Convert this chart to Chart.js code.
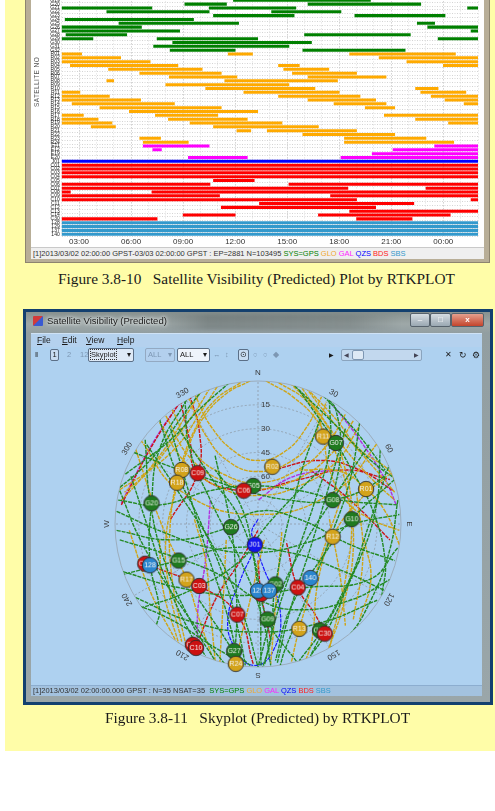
<!DOCTYPE html>
<html>
<head>
<meta charset="utf-8">
<title>RTKPLOT satellite visibility</title>
<script src="https://cdn.jsdelivr.net/npm/chart.js@4.4.1/dist/chart.umd.min.js"></script>
<style>
  html, body { margin: 0; padding: 0; width: 495px; height: 811px; overflow: hidden; background: #fff; }
  body { position: relative; font-family: "Liberation Sans", Arial, sans-serif; }
  .abs { position: absolute; }
  #paper { left: 5px; top: 0; width: 490px; height: 751px; background: #fffda8; }

  /* window 1 (visibility plot) */
  #w1frame { left: 25px; top: -10px; width: 465px; height: 273px; background: #b8ae97; box-shadow: inset 1px 0 0 #8d846f, inset -1px -1px 0 #8d846f; }
  #w1 { left: 31px; top: -10px; width: 453px; height: 268px; background: #fff; }
  #vis { left: 32px; top: -4px; width: 452px; height: 251px; }
  #ytitle { left: 7px; top: 78px; width: 60px; height: 8px; line-height: 8px; text-align: center; transform: rotate(-90deg); font-size: 6.5px; color: #555; white-space: nowrap; letter-spacing: 0.4px; }
  .status { white-space: nowrap; color: #333; }
  #status1 { left: 31px; top: 247px; width: 453px; height: 11px; background: #efefef; border-top: 1px solid #c9c9c9; font-size: 7.5px; line-height: 11px; }
  #status1 span.t, #status2 span.t { position: absolute; left: 2px; top: 0; }
  .gps { color: #008000; } .glo { color: #f0a830; } .gal { color: #ff22ff; }
  .qzs { color: #0000ff; } .bds { color: #ff2020; } .sbs { color: #3399cc; }
  .cap { font-family: "Liberation Serif", "DejaVu Serif", serif; font-size: 14px; color: #1a1a1a; white-space: nowrap; line-height: 16px; }
  #cap1 { left: 58px; top: 271px; }
  #cap2 { left: 105px; top: 710px; }

  /* window 2 (skyplot) */
  #w2outer { left: 23px; top: 309px; width: 470px; height: 396px; background: #13406f; }
  #w2frame { left: 26px; top: 312px; width: 464px; height: 390px; background: linear-gradient(#87918f 0, #9ea8a8 12px, #929ea1 21px, #9aa6a9 100%); }
  #w2blur { left: 160px; top: 314px; width: 240px; height: 16px; background: linear-gradient(90deg, rgba(80,88,88,0) 0, rgba(80,88,88,0.4) 20%, rgba(80,88,88,0.3) 80%, rgba(80,88,88,0) 100%); filter: blur(2px); }
  #w2icon { left: 33px; top: 316px; width: 10px; height: 10px; background: linear-gradient(135deg, #d23a3a 0, #d23a3a 45%, #3a5ad2 55%, #3a5ad2 100%); border-radius: 1px; }
  #w2title { left: 47px; top: 316px; font-size: 8.5px; line-height: 10px; color: #1c1c1c; white-space: nowrap; text-shadow: 0 0 3px #eef2f2, 0 0 5px #eef2f2; }
  .wbtn { top: 313px; height: 12px; border: 1px solid #56626c; border-radius: 2px; background: linear-gradient(#d6dde2, #9aa8b2); font-size: 8px; line-height: 12px; text-align: center; color: #fff; }
  #bmin { left: 410px; width: 18px; }
  #bmax { left: 430px; width: 19px; }
  #bcls { left: 451px; width: 31px; background: linear-gradient(#e4a08e, #c4442c); font-weight: bold; }
  #w2client { left: 31px; top: 333px; width: 451px; height: 362px; background: #aed1f0; }
  #menubar { left: 31px; top: 333px; width: 451px; height: 14px; background: #b4d1ee; border-top: 1px solid #cfe2f5; box-sizing: border-box; }
  .menu { top: 335px; font-size: 8.5px; line-height: 10px; color: #1a1a1a; }
  .tb { top: 350px; font-size: 7.5px; line-height: 10px; color: #1a1a1a; white-space: nowrap; }
  .dim { color: #7d97b3; }
  .box { border: 1px solid #5b6f87; border-radius: 2px; background: #c8dcf1; text-align: center; }
  #status2 { left: 31px; top: 685px; width: 451px; height: 10px; background: #a3c2df; border-top: 1px solid #8cadcf; font-size: 7.5px; line-height: 10px; }
  #sky { left: 31px; top: 365px; width: 451px; height: 320px; }
</style>
</head>
<body>
<div id="paper" class="abs"></div>

<!-- Figure 3.8-10 -->
<div id="w1frame" class="abs"></div>
<div id="w1" class="abs"></div>
<div id="vis" class="abs"><canvas id="visChart"></canvas></div>
<div id="ytitle" class="abs">SATELLITE NO</div>
<div id="status1" class="abs status"><span class="t" id="st1">[1]2013/03/02 02:00:00 GPST-03/03 02:00:00 GPST : EP=2881 N=103495 <span class="gps">SYS=GPS</span> <span class="glo">GLO</span> <span class="gal">GAL</span> <span class="qzs">QZS</span> <span class="bds">BDS</span> <span class="sbs">SBS</span></span></div>
<div id="cap1" class="abs cap">Figure 3.8-10&nbsp;&nbsp;&nbsp;Satellite Visibility (Predicted) Plot by RTKPLOT</div>

<!-- Figure 3.8-11 -->
<div id="w2outer" class="abs"></div>
<div id="w2frame" class="abs"></div>
<div id="w2blur" class="abs"></div>
<div id="w2icon" class="abs"></div>
<div id="w2title" class="abs">Satellite Visibility (Predicted)</div>
<div id="bmin" class="abs wbtn">&#8211;</div>
<div id="bmax" class="abs wbtn">&#9633;</div>
<div id="bcls" class="abs wbtn">x</div>
<div id="w2client" class="abs"></div>
<div id="menubar" class="abs"></div>
<div class="abs menu" style="left:37px"><u>F</u>ile</div>
<div class="abs menu" style="left:62px"><u>E</u>dit</div>
<div class="abs menu" style="left:86px"><u>V</u>iew</div>
<div class="abs menu" style="left:117px"><u>H</u>elp</div>

<div class="abs tb" style="left:35px">&#8214;</div>
<div class="abs tb box" style="left:50px;top:349px;width:7px;height:10px">1</div>
<div class="abs tb dim" style="left:67px">2</div>
<div class="abs tb dim" style="left:80px">12</div>
<div class="abs tb box" style="left:88px;top:348px;width:44px;height:12px;background:#dde9f6;text-align:left;line-height:12px">&nbsp;<span style="outline:1px dotted #333">Skyplot</span><span style="position:absolute;right:2px">&#9662;</span></div>
<div class="abs tb box dim" style="left:145px;top:348px;width:28px;height:12px;line-height:12px;border-color:#93a9c2;background:#b3d0ee;text-align:left">&nbsp;ALL<span style="position:absolute;right:2px">&#9662;</span></div>
<div class="abs tb box" style="left:177px;top:348px;width:31px;height:12px;line-height:12px;background:#eef4fb;text-align:left">&nbsp;ALL<span style="position:absolute;right:2px">&#9662;</span></div>
<div class="abs tb dim" style="left:213px">&#8596;</div>
<div class="abs tb dim" style="left:225px">&#8597;</div>
<div class="abs tb box" style="left:238px;top:349px;width:9px;height:10px">&#8857;</div>
<div class="abs tb dim" style="left:253px">&#9675;</div>
<div class="abs tb dim" style="left:263px">&#9675;</div>
<div class="abs tb dim" style="left:273px">&#9670;</div>
<div class="abs tb" style="left:329px;font-size:6px">&#9654;</div>
<div class="abs box" style="left:341px;top:349px;width:79px;height:10px;background:#c2d8ee;border-color:#8aa4be"></div>
<div class="abs tb dim" style="left:344px;font-size:6px;color:#445">&#9664;</div>
<div class="abs box" style="left:352px;top:350px;width:10px;height:8px;background:#dde9f5;border-color:#7d97b3"></div>
<div class="abs tb" style="left:414px;font-size:6px;color:#445">&#9654;</div>
<div class="abs tb" style="left:445px;font-size:8px">&#10005;</div>
<div class="abs tb" style="left:459px;font-size:8.5px">&#8635;</div>
<div class="abs tb" style="left:472px;font-size:9px">&#9881;</div>

<div id="sky" class="abs"><canvas id="skyChart"></canvas></div>
<div id="status2" class="abs status"><span class="t" id="st2">[1]2013/03/02 02:00:00.000 GPST : N=35 NSAT=35&nbsp; <span class="gps">SYS=GPS</span> <span class="glo">GLO</span> <span class="gal">GAL</span> <span class="qzs">QZS</span> <span class="bds">BDS</span> <span class="sbs">SBS</span></span></div>
<div id="cap2" class="abs cap">Figure 3.8-11&nbsp;&nbsp;&nbsp;Skyplot (Predicted) by RTKPLOT</div>

<script>
// ---- visibility plot: passes in hours from 2013/03/02 00:00 GPST (2 = 02:00, 26 = 02:00 next day)
const timeMin = 2;
const timeMax = 26;

const gpsSats = ['G19','G20','G21','G22','G23','G24','G25','G26','G27','G28','G29','G30','G31','G32'];
const gpsPasses = [
  [[11.9,19.8]],
  [[9.1,11.5],[16.2,22.7]],
  [[2,7.2],[10.5,15.5],[25.4,26]],
  [[4.6,10.5],[14.1,18.1]],
  [[10.75,15.4],[18.9,24.1]],
  [[2.2,9.6]],
  [[5.3,12.2],[22.5,23.5]],
  [[2,6.6],[23.1,26]],
  [[2,8.8],[25.6,26]],
  [[2.25,5.75],[16,22.1]],
  [[2,3.8],[7.5,13.3],[23.7,26]],
  [[8.4,16.4]],
  [[7.3,15.1]],
  [[8.25,12],[15.9,21.8]]
];

const gloSats = ['R01','R02','R03','R04','R05','R06','R07','R08','R09','R10','R11','R12',
                 'R13','R14','R15','R16','R17','R18','R19','R20','R21','R22','R23','R24'];
const gloPasses = [
  [[2,3.15],[11.6,13],[18.6,24.7]],
  [[2,5.4],[20.3,26]],
  [[2,7.1],[21.9,26]],
  [[2.5,8.7],[14.5,15.7],[24,26]],
  [[4.7,10.1],[14.8,17.4]],
  [[6.5,11.2],[15.3,19]],
  [[8.2,12.1],[16.2,20.7]],
  [[4.6,5],[11.4,17.9]],
  [[8,15.1]],
  [[10.3,16.6],[22.4,23.7]],
  [[2,3.05],[12.5,18],[22.7,25.3]],
  [[2,4.75],[14.5,19.2],[23.3,26]],
  [[2,6.55],[16.2,20.1],[24.1,26]],
  [[2.6,8.5],[17.7,20.7],[25.2,26]],
  [[4.2,11.2],[19.5,21.2]],
  [[5.9,13.3]],
  [[2,3.25],[7.4,11],[20.6,26]],
  [[2,4.1],[8.15,12.7],[22.4,26]],
  [[2,4.9],[9.4,14.7],[24.3,26]],
  [[3.7,5.1],[10.75,16.8]],
  [[12.1,12.9],[13.85,19]],
  [[15.9,21.2]],
  [[6.5,7.7],[18.3,23]],
  [[6.7,9.3],[18.3,24.6]]
];

const galSats = ['E11','E12','E19','E20'];
const galPasses = [
  [[6.7,10.5],[23.5,26]],
  [[7.25,7.75],[21.1,26]],
  [[19.9,26]],
  [[9.3,12.7],[18.1,26]]
];

const qzsSats = ['J01'];
const qzsPasses = [[[2,26]]];

const bdsSats = ['C01','C02','C03','C04','C05','C06','C07','C08','C09','C10','C11','C12','C13','C14','C30'];
const bdsPasses = [
  [[2,26]], [[2,26]], [[2,26]], [[2,26]],
  [[10.75,13.1]],
  [[2,10.55],[15.1,26]],
  [[2,18.5],[23,26]],
  [[2,2.5],[7.2,26]],
  [[2,11.1],[17.5,26]],
  [[2,19],[25.6,26]],
  [[13.4,22.3]],
  [[11.2,20.1]],
  [[18.6,26]],
  [[9,12],[16.8,24.4]],
  [[2,7.5],[19,22.2]]
];

const sbsSats = ['128','129','137','140'];
const sbsPasses = [[[2,26]], [[2,26]], [[2,26]], [[2,26]]];

// ---- skyplot: positions as east / north offsets from zenith, in degrees of zenith angle (90 = horizon)
const elevTicks = [15, 30, 45, 60, 75];
const elevLabels = [15, 30, 45, 60];
const azTicks = [0, 30, 60, 90, 120, 150, 180, 210, 240, 270, 300, 330];
const azLabels = ['N','30','60','E','120','150','S','210','240','W','300','330'];

const skySats = ['G05','C06','R08','R18','C09','R11','G07','R02','R01','G20','G08','G10','G26','R12','J01',
                 'C01','128','G15','R17','C03','C08','129','G02','137','C04','140','C07','G09','R13',
                 'G04','C30','C05','C10','G27','R24'];
const skyPos = [
  [-3,24],[-9,21],[-48,34],[-51,26],[-38,32],[41,55],[49,51],[9,36],[68,22],[-67,13],[47,15],[59,3],[-17,-2],[47,-8],[-2,-13],
  [-71,-25],[-68,-26],[-50,-23],[-45,-35],[-37,-39],[2,-44],[0,-42],[11,-38],[7,-42],[25,-40],[33,-34],[-13,-57],[6,-60],[26,-66],
  [39,-67],[42,-69],[-41,-76],[-39,-78],[-15,-80],[-14,-88]
];

const gpsTracks = [
  [[-62,66],[-52,34],[-37,3],[-21,-35],[-11,-73],[-8,-89]],
  [[-46,78],[-43,47],[-30,15],[-11,-23],[3,-60],[8,-89]],
  [[-71,53],[-68,15],[-59,-23],[-43,-60],[-27,-86]],
  [[-87,21],[-74,-10],[-55,-42],[-33,-73],[-21,-88]],
  [[45,78],[45,47],[36,15],[23,-23],[11,-60],[4,-89]],
  [[64,64],[58,28],[45,-10],[30,-48],[17,-79],[14,-89]],
  [[77,47],[74,9],[61,-29],[45,-60],[33,-83]],
  [[88,15],[83,-16],[71,-48],[55,-73],[45,-78]],
  [[-88,15],[-62,12],[-30,21],[-3,24],[26,21],[52,15],[88,12]],
  [[-78,45],[-52,35],[-30,28],[-8,21],[20,15],[47,15],[77,28],[84,40]],
  [[26,84],[49,51],[59,34],[72,9],[80,-23],[78,-45]],
  [[-45,78],[-62,47],[-67,13],[-68,-23],[-62,-54],[-64,-64]],
  [[-27,43],[-17,-2],[-14,-35],[-14,-73],[-18,-89]],
  [[-86,-32],[-50,-23],[-18,-15],[20,-18],[52,-29],[80,-42]],
  [[26,-89],[6,-60],[-2,-23],[-11,12],[-27,34]],
  [[39,66],[26,28],[11,-38],[8,-73],[3,-90]],
  [[86,28],[59,3],[39,-23],[20,-54],[11,-86]],
  [[-37,-48],[-24,-67],[-15,-80],[-5,-89]],
  [[47,15],[52,47],[49,72],[45,78]],
  [[64,-23],[40,-67],[26,-86]],
  [[-87,-10],[-55,-20],[-24,-32],[1,-48],[26,-54],[58,-48],[83,-35]],
  [[-84,-48],[-55,-60],[-30,-76],[-11,-87]],
  [[-33,87],[-49,66],[-62,47],[-74,34],[-87,23]],
  [[-18,89],[-37,72],[-55,53],[-84,31]],
  [[23,87],[45,66],[71,40],[87,28]],
  [[39,83],[61,59],[80,34]],
  [[-89,-4],[-55,-10],[-24,-4],[0,8],[26,3],[58,-13],[86,-23]],
  [[-77,-54],[-43,-42],[-11,-23],[3,-4],[20,15],[39,34]],
  [[-80,30],[-70,0],[-58,-35],[-42,-70],[-33,-83]],
  [[-55,60],[-45,25],[-33,-15],[-20,-55],[-12,-88]],
  [[55,60],[45,25],[33,-15],[20,-55],[12,-88]],
  [[80,30],[70,0],[58,-35],[42,-70],[33,-83]],
  [[-50,60],[-30,30],[-10,0],[0,-40],[2,-89]],
  [[70,50],[50,20],[25,-20],[10,-55],[0,-90]],
  [[-70,50],[-50,20],[-25,-20],[-10,-55],[0,-90]],
  [[-85,-30],[-50,-40],[-10,-45],[30,-40],[70,-35],[88,-15]],
  [[-80,-45],[-40,-62],[0,-68],[40,-62],[75,-48]],
  [[-89,8],[-60,-5],[-30,-15],[0,-18],[30,-12],[60,0],[89,6]]
];

const gloTracks = [
  [[-44,80],[-33,56],[-18,39],[0,33],[20,39],[34,53],[43,77]],
  [[-54,72],[-40,45],[-21,31],[0,26],[23,33],[42,48],[55,69]],
  [[-62,64],[-46,39],[-24,23],[0,18],[26,24],[49,39],[64,62]],
  [[-40,82],[-30,62],[-14,45],[0,40],[16,45],[30,60],[40,80]],
  [[-58,68],[-43,42],[-22,27],[0,22],[24,28],[46,44],[60,65]],
  [[-33,88],[-43,72],[-59,47],[-74,28],[-86,15]],
  [[-24,89],[-37,69],[-50,50],[-68,34],[-88,21]],
  [[-30,86],[-40,70],[-55,50],[-70,32],[-84,20]],
  [[26,88],[39,69],[55,47],[72,28],[86,15]],
  [[33,83],[49,66],[64,47],[82,34],[88,22]],
  [[30,86],[44,68],[60,50],[76,32],[86,20]],
  [[-11,89],[-27,78],[-40,59],[-49,34],[-55,3],[-54,-35],[-45,-78]],
  [[13,89],[30,78],[45,59],[55,34],[59,3],[55,-35],[45,-78]],
  [[-5,90],[-20,82],[-35,66],[-45,45],[-52,20],[-58,-10],[-56,-40],[-48,-74]],
  [[5,90],[22,80],[38,64],[50,42],[57,15],[60,-15],[54,-50],[44,-80]],
  [[20,89],[36,72],[41,55],[45,34],[55,15],[71,3],[89,-4]],
  [[-77,47],[-62,3],[-45,-35],[-37,-60],[-29,-83]],
  [[52,15],[39,-23],[26,-66],[21,-87]],
  [[4,-10],[-5,-48],[-11,-73],[-14,-88]],
  [[89,-13],[80,8],[68,22],[52,33],[26,34]],
  [[86,34],[64,15],[47,-8],[38,-35],[34,-73],[30,-86]],
  [[-81,-4],[-68,-42],[-52,-73]],
  [[67,-10],[71,-35],[64,-60]],
  [[-40,3],[-33,-23],[-30,-54],[-27,-86]],
  [[45,3],[52,-35],[55,-64]],
  [[-74,53],[-49,21],[0,6],[49,21],[77,53]],
  [[-62,-10],[-60,-40],[-50,-75]],
  [[15,-5],[12,-40],[8,-88]],
  [[-20,-10],[-22,-50],[-24,-87]],
  [[62,20],[66,-20],[60,-60]]
];

const bdsTracks = [
  [[-49,78],[-43,53],[-38,32],[-9,21],[26,28],[55,34],[83,28]],
  [[-39,-78],[-27,-48],[-11,-23],[0,-4]],
  [[-71,-25],[-37,-39],[-13,-57],[-3,-88]],
  [[18,-12],[25,-40],[36,-57],[42,-69]],
  [[9,34],[39,40],[64,34],[85,21]],
  [[0,-23],[2,-44],[8,-73]],
  [[-86,12],[-68,47],[-47,80]],
  [[-43,81],[-37,59],[-38,32],[-55,3]],
  [[33,34],[58,15],[83,-10]]
];

const galTracks = [
  [[47,75],[64,53],[80,28],[87,12]],
  [[-49,77],[-65,53],[-77,31],[-86,13]],
  [[-30,15],[-33,-23],[-38,-56],[-37,-88]],
  [[45,34],[20,29],[0,15]]
];

const qzsTracks = [
  [[0,3],[-4,-5],[-2,-13],[-11,-35],[-19,-60],[-14,-79],[-3,-89],[9,-81],[14,-55],[4,-29],[-2,-13]]
];

// ---- colours
const barColor = { G: '#008000', R: '#ffaa00', E: '#ff00ff', J: '#0000ff', C: '#ff0000', S: '#3399cc' };
const trackColor = { G: '#248a24', R: '#cfa516', E: '#b030e0', J: '#1a1aff', C: '#cc1414' };
const markColor = { G: '#1f7a1f', R: '#d3a31b', E: '#c040e0', J: '#1414ee', C: '#cc1111', S: '#2b86cf' };
const sysOf = id => /^\d/.test(id) ? 'S' : id[0];

// ================= Figure 3.8-10 =================
const rowSats = [].concat(gpsSats, gloSats, galSats, qzsSats, bdsSats, sbsSats);
const rowPasses = [].concat(gpsPasses, gloPasses, galPasses, qzsPasses, bdsPasses, sbsPasses);
const maxPasses = Math.max(...rowPasses.map(p => p.length));

const visSets = [];
for (let k = 0; k < maxPasses; k++) {
  visSets.push({
    data: rowPasses.map(p => p[k] || null),
    backgroundColor: ctx => barColor[sysOf(rowSats[ctx.dataIndex])],
    barThickness: 2.4,
    grouped: false
  });
}

new Chart(document.getElementById('visChart'), {
  type: 'bar',
  data: { labels: rowSats, datasets: visSets },
  options: {
    indexAxis: 'y',
    responsive: true,
    maintainAspectRatio: false,
    animation: false,
    events: [],
    layout: { padding: { top: 2.4, right: 6, left: 0, bottom: 0 } },
    plugins: { legend: { display: false }, tooltip: { enabled: false } },
    scales: {
      x: {
        type: 'linear', min: timeMin, max: timeMax,
        afterFit: s => { s.height = 10.9; },
        grid: {
          drawTicks: false,
          color: ctx => (ctx.tick && ctx.tick.value % 3 === 0) ? '#a8a8a8' : '#d6d6d6',
          lineWidth: 0.8
        },
        border: { display: false, dash: [1, 2] },
        ticks: {
          stepSize: 1, autoSkip: false, maxRotation: 0, padding: 1,
          color: '#333', font: { family: 'Liberation Sans', size: 8 },
          callback: v => v % 3 === 0 ? String(v % 24).padStart(2, '0') + ':00' : ''
        }
      },
      y: {
        afterFit: s => { s.width = 29.7; },
        grid: { color: '#c9c9c9', lineWidth: 0.8, tickLength: 2, tickColor: 'rgba(0,0,0,0)' },
        border: { display: false, dash: [1, 1.5] },
        ticks: {
          autoSkip: false, padding: 0, color: '#1a1a1a',
          font: { family: 'Liberation Sans', size: 5, lineHeight: 0.8 }
        }
      }
    }
  }
});

// ================= Figure 3.8-11 =================
const toXY = t => t.map(p => ({ x: p[0], y: p[1] }));

function satIcon(id) {
  const c = document.createElement('canvas');
  c.width = 18; c.height = 18;
  const g = c.getContext('2d');
  g.beginPath();
  g.arc(9, 9, 7.7, 0, Math.PI * 2);
  g.fillStyle = markColor[sysOf(id)];
  g.fill();
  g.lineWidth = 0.9;
  g.strokeStyle = '#2b2b2b';
  g.stroke();
  g.fillStyle = '#f4f4f4';
  g.font = '7px "Liberation Sans"';
  g.textAlign = 'center';
  g.textBaseline = 'middle';
  g.fillText(id, 9, 9.5);
  return c;
}
const icons = skySats.map(satIcon);

const trackSets = [];
[['G', gpsTracks], ['R', gloTracks], ['C', bdsTracks], ['E', galTracks], ['J', qzsTracks]].forEach(([sys, list]) => {
  list.forEach(t => trackSets.push({
    data: toXY(t),
    showLine: true,
    tension: 0.45,
    pointRadius: 0,
    borderWidth: sys === 'J' ? 1.2 : 1.4,
    borderColor: trackColor[sys],
    borderDash: [4, 1],
    order: 1
  }));
});

const skyGrid = {
  id: 'skyGrid',
  beforeDatasetsDraw(chart) {
    const { ctx, scales: { x, y } } = chart;
    const cx = x.getPixelForValue(0), cy = y.getPixelForValue(0);
    const rad = el => x.getPixelForValue(90 - el) - cx;
    const R = rad(0);
    ctx.save();
    ctx.strokeStyle = '#97a3ae';
    ctx.lineWidth = 0.8;
    ctx.beginPath(); ctx.arc(cx, cy, R, 0, Math.PI * 2); ctx.stroke();
    ctx.setLineDash([2, 2]);
    ctx.strokeStyle = '#8e9aa6';
    elevTicks.forEach(el => { ctx.beginPath(); ctx.arc(cx, cy, rad(el), 0, Math.PI * 2); ctx.stroke(); });
    azTicks.forEach(az => {
      const a = az * Math.PI / 180;
      ctx.beginPath(); ctx.moveTo(cx, cy); ctx.lineTo(cx + R * Math.sin(a), cy - R * Math.cos(a)); ctx.stroke();
    });
    ctx.setLineDash([]);
    ctx.fillStyle = '#3a3a3a';
    ctx.font = '8px "Liberation Sans"';
    ctx.textAlign = 'center';
    ctx.textBaseline = 'middle';
    azTicks.forEach((az, i) => {
      const a = az * Math.PI / 180, rr = R + 8;
      ctx.save();
      ctx.translate(cx + rr * Math.sin(a), cy - rr * Math.cos(a));
      ctx.rotate(a);
      ctx.fillText(azLabels[i], 0, 0);
      ctx.restore();
    });
    ctx.textAlign = 'left';
    elevLabels.forEach(el => ctx.fillText(String(el), cx + 3, cy - rad(el)));
    ctx.restore();
  }
};

const clipTracks = {
  id: 'clipTracks',
  beforeDatasetDraw(chart, args) {
    if (!chart.data.datasets[args.index].showLine) return;
    const { ctx, scales: { x, y } } = chart;
    const cx = x.getPixelForValue(0), cy = y.getPixelForValue(0);
    ctx.save();
    ctx.beginPath();
    ctx.arc(cx, cy, x.getPixelForValue(90) - cx, 0, Math.PI * 2);
    ctx.clip();
  },
  afterDatasetDraw(chart, args) {
    if (chart.data.datasets[args.index].showLine) chart.ctx.restore();
  }
};

new Chart(document.getElementById('skyChart'), {
  type: 'scatter',
  data: {
    datasets: [
      {
        data: toXY(skyPos),
        pointStyle: ctx => icons[ctx.dataIndex],
        pointRadius: 7.7,
        clip: false,
        order: 0
      }
    ].concat(trackSets)
  },
  options: {
    responsive: true,
    maintainAspectRatio: false,
    animation: false,
    events: [],
    layout: { padding: { left: 84, right: 81, top: 16, bottom: 18 } },
    plugins: { legend: { display: false }, tooltip: { enabled: false } },
    scales: {
      x: { type: 'linear', min: -90, max: 90, display: false },
      y: { type: 'linear', min: -90, max: 90, display: false }
    }
  },
  plugins: [skyGrid, clipTracks]
});

// fit the page texts to the widths they take in the document
function fitWidth(id, target) {
  const el = document.getElementById(id);
  const w = el.getBoundingClientRect().width;
  const fs = parseFloat(getComputedStyle(el).fontSize);
  if (w > 0) el.style.fontSize = (fs * target / w).toFixed(2) + 'px';
}
fitWidth('cap1', 397);
fitWidth('cap2', 305);
fitWidth('st1', 373);
fitWidth('st2', 298);
fitWidth('w2title', 120);
</script>
</body>
</html>
